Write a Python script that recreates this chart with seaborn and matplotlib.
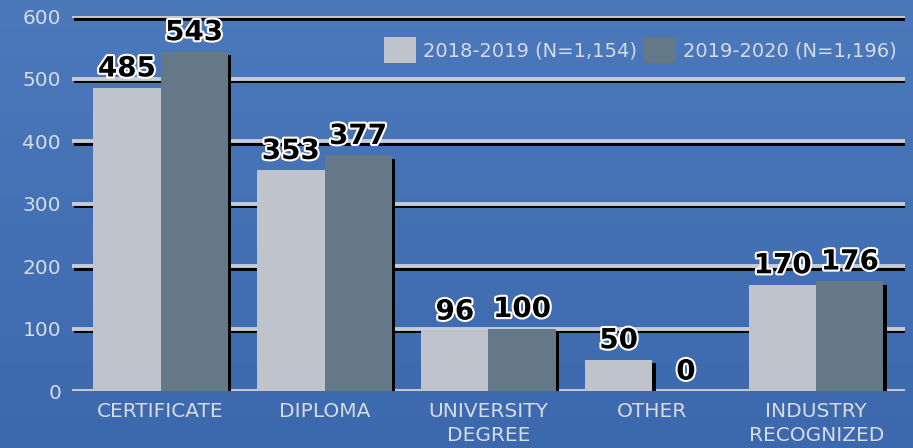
import numpy as np
import pandas as pd
import matplotlib
matplotlib.use("Agg")
import matplotlib.pyplot as plt
import matplotlib.patheffects as pe
import seaborn as sns

# ── data ───────────────────────────────────────────────
CATEGORIES = ["CERTIFICATE", "DIPLOMA", "UNIVERSITY\nDEGREE", "OTHER", "INDUSTRY\nRECOGNIZED"]
YEARS      = ["2018-2019 (N=1,154)", "2019-2020 (N=1,196)"]
VALS_1819  = [485, 353, 96, 50, 170]
VALS_1920  = [543, 377, 100, 0, 176]
Y_TICKS    = [0, 100, 200, 300, 400, 500, 600]

# ── style ──────────────────────────────────────────────
BG_TOP, BG_BOT = "#4b79bc", "#3c69ad"
LIGHT, DARK    = "#bfc3cb", "#657888"
TXT            = "#d6dae1"

sns.set_style("white")
plt.rcParams['font.family'] = ['DejaVu Sans']

df = pd.DataFrame({
    "category": CATEGORIES * 2,
    "year": [YEARS[0]] * len(CATEGORIES) + [YEARS[1]] * len(CATEGORIES),
    "value": VALS_1819 + VALS_1920,
})

fig = plt.figure(figsize=(9.13, 4.48), dpi=100)

# gradient background
bg = fig.add_axes([0, 0, 1, 1], zorder=-10)
grad = np.linspace(0, 1, 256).reshape(-1, 1)
cmap = matplotlib.colors.LinearSegmentedColormap.from_list("bg", [BG_TOP, BG_BOT])
bg.imshow(grad, aspect="auto", cmap=cmap, extent=[0, 1, 0, 1])
bg.axis("off")

ax = fig.add_axes([0.079, 0.127, 0.912, 0.837])
ax.set_facecolor("none")

# gridlines with black drop shadow
grid_fx = [pe.SimpleLineShadow(offset=(1.5, -1.8), shadow_color="black", alpha=1), pe.Normal()]
for yv in Y_TICKS:
    ax.axhline(yv, color="#c6ccd6", lw=2.8, zorder=1, path_effects=grid_fx, solid_capstyle="butt")

sns.barplot(data=df, x="category", y="value", hue="year",
            palette=[LIGHT, DARK], width=0.82, gap=0.0, saturation=1,
            edgecolor="none", linewidth=0, ax=ax, zorder=3)

bar_fx = [pe.SimplePatchShadow(offset=(2.5, -2.5), shadow_rgbFace="black", alpha=1), pe.Normal()]
for patch in ax.patches:
    patch.set_path_effects(bar_fx)

lbl_fx = [pe.withStroke(linewidth=3, foreground="white")]
for cont in ax.containers:
    ax.bar_label(cont, padding=4, fontsize=20, fontweight="bold", color="black",
                 path_effects=lbl_fx, zorder=6)

ax.set_ylim(0, 600)
ax.set_xlim(-0.54, 4.54)
ax.set_yticks(Y_TICKS)
ax.tick_params(axis="both", length=0, colors=TXT, labelsize=14.5)
ax.tick_params(axis="x", pad=8)
ax.tick_params(axis="y", pad=8)
for t in ax.get_xticklabels():
    t.set_linespacing(1.3)
ax.set_xlabel("")
ax.set_ylabel("")
sns.despine(ax=ax, left=True, bottom=True)

leg = ax.legend(loc="upper right", bbox_to_anchor=(1.0, 0.965), ncol=2, frameon=False,
                fontsize=14, handlelength=1.65, handleheight=1.65, handletextpad=0.35,
                columnspacing=0.4, borderaxespad=0)
for t in leg.get_texts():
    t.set_color(TXT)
for h in leg.legend_handles:
    h.set_path_effects([])

fig.savefig("out.png", dpi=100, facecolor=BG_TOP)
